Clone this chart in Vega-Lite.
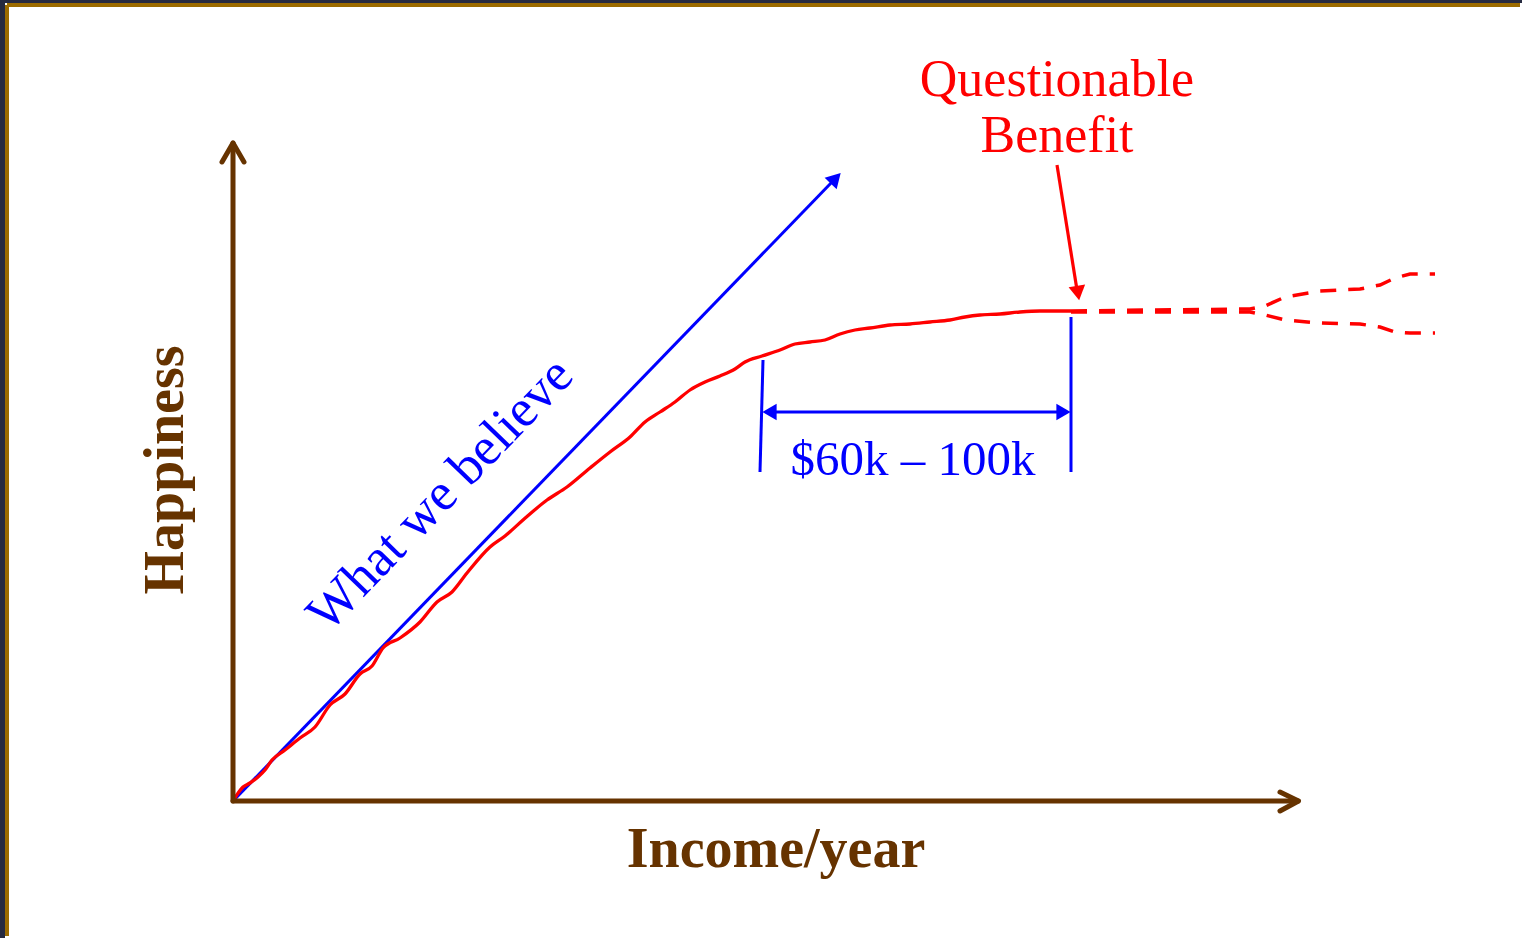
{
  "$schema": "https://vega.github.io/schema/vega-lite/v6.json",
  "width": 1522,
  "height": 938,
  "autosize": {"type": "fit", "contains": "padding"},
  "padding": {"left": 5, "top": 3, "right": 0, "bottom": 0},
  "background": "#262a40",
  "config": {"view": {"fill": "white", "stroke": null}},
  "datasets": {
    "frameLeft": [{"x": -22.6, "y": -13.5, "y2": 79.6}],
    "frameTop": [{"x": -22.6, "x2": 128.7, "y": 79.6}],
    "axes": [
      {"seg": "y", "ord": 1, "x": 0, "y": 0}, {"seg": "y", "ord": 2, "x": 0, "y": 65.8},
      {"seg": "yh", "ord": 1, "x": -1.1, "y": 63.9}, {"seg": "yh", "ord": 2, "x": 0, "y": 65.8}, {"seg": "yh", "ord": 3, "x": 1.1, "y": 63.9},
      {"seg": "x", "ord": 1, "x": 0, "y": 0}, {"seg": "x", "ord": 2, "x": 106.5, "y": 0},
      {"seg": "xh", "ord": 1, "x": 104.7, "y": 0.9}, {"seg": "xh", "ord": 2, "x": 106.55, "y": 0}, {"seg": "xh", "ord": 3, "x": 104.7, "y": -1.0}
    ],
    "believe": [
      {"ord": 1, "x": 0, "y": 0}, {"ord": 2, "x": 59.9, "y": 61.9}
    ],
    "believeHead": [{"x": 60.1, "y": 62.1}],
    "actual": [
      {"ord": 1, "x": 0, "y": 0}, {"ord": 2, "x": 1.0, "y": 1.4}, {"ord": 3, "x": 1.7, "y": 1.8},
      {"ord": 4, "x": 2.5, "y": 2.4}, {"ord": 5, "x": 3.2, "y": 3.1}, {"ord": 6, "x": 3.9, "y": 4.1},
      {"ord": 7, "x": 5.2, "y": 5.1}, {"ord": 8, "x": 6.7, "y": 6.3}, {"ord": 9, "x": 8.2, "y": 7.4},
      {"ord": 10, "x": 9.7, "y": 9.6}, {"ord": 11, "x": 11.2, "y": 10.7}, {"ord": 12, "x": 12.7, "y": 12.7},
      {"ord": 13, "x": 13.9, "y": 13.5}, {"ord": 14, "x": 15.0, "y": 15.3}, {"ord": 15, "x": 16.7, "y": 16.3},
      {"ord": 16, "x": 18.7, "y": 17.9}, {"ord": 17, "x": 20.4, "y": 19.9}, {"ord": 18, "x": 21.9, "y": 20.9},
      {"ord": 19, "x": 23.4, "y": 22.8}, {"ord": 20, "x": 25.7, "y": 25.4}, {"ord": 21, "x": 27.2, "y": 26.5},
      {"ord": 22, "x": 29.0, "y": 28.1}, {"ord": 23, "x": 31.4, "y": 30.1}, {"ord": 24, "x": 33.4, "y": 31.4},
      {"ord": 25, "x": 35.7, "y": 33.3}, {"ord": 26, "x": 37.7, "y": 34.9}, {"ord": 27, "x": 39.7, "y": 36.4},
      {"ord": 28, "x": 41.2, "y": 37.9}, {"ord": 29, "x": 42.7, "y": 38.9}, {"ord": 30, "x": 44.2, "y": 39.9},
      {"ord": 31, "x": 45.7, "y": 41.1}, {"ord": 32, "x": 47.2, "y": 41.9}, {"ord": 33, "x": 48.7, "y": 42.5},
      {"ord": 34, "x": 50.2, "y": 43.2}, {"ord": 35, "x": 51.2, "y": 43.9}, {"ord": 36, "x": 52.9, "y": 44.5},
      {"ord": 37, "x": 54.7, "y": 45.1}, {"ord": 38, "x": 56.2, "y": 45.7}, {"ord": 39, "x": 57.7, "y": 45.9},
      {"ord": 40, "x": 59.2, "y": 46.1}, {"ord": 41, "x": 60.7, "y": 46.7}, {"ord": 42, "x": 62.2, "y": 47.1},
      {"ord": 43, "x": 63.7, "y": 47.3}, {"ord": 44, "x": 65.7, "y": 47.6}, {"ord": 45, "x": 67.7, "y": 47.7},
      {"ord": 46, "x": 69.7, "y": 47.9}, {"ord": 47, "x": 71.7, "y": 48.1}, {"ord": 48, "x": 73.2, "y": 48.4},
      {"ord": 49, "x": 74.7, "y": 48.6}, {"ord": 50, "x": 76.7, "y": 48.7}, {"ord": 51, "x": 78.7, "y": 48.9},
      {"ord": 52, "x": 80.7, "y": 49.0}, {"ord": 53, "x": 83.8, "y": 49.0}
    ],
    "beyond": [
      {"seg": "up", "ord": 1, "x": 83.8, "y": 49.0}, {"seg": "up", "ord": 2, "x": 91.7, "y": 49.1},
      {"seg": "up", "ord": 3, "x": 101.7, "y": 49.2}, {"seg": "up", "ord": 4, "x": 103.2, "y": 49.5},
      {"seg": "up", "ord": 5, "x": 105.2, "y": 50.4}, {"seg": "up", "ord": 6, "x": 108.7, "y": 51.0},
      {"seg": "up", "ord": 7, "x": 112.7, "y": 51.2}, {"seg": "up", "ord": 8, "x": 114.7, "y": 51.6},
      {"seg": "up", "ord": 9, "x": 116.2, "y": 52.3}, {"seg": "up", "ord": 10, "x": 117.7, "y": 52.7},
      {"seg": "up", "ord": 11, "x": 120.2, "y": 52.7},
      {"seg": "down", "ord": 1, "x": 83.8, "y": 48.9}, {"seg": "down", "ord": 2, "x": 91.7, "y": 48.9},
      {"seg": "down", "ord": 3, "x": 101.7, "y": 48.9}, {"seg": "down", "ord": 4, "x": 103.2, "y": 48.6},
      {"seg": "down", "ord": 5, "x": 105.2, "y": 48.1}, {"seg": "down", "ord": 6, "x": 108.7, "y": 47.8},
      {"seg": "down", "ord": 7, "x": 112.7, "y": 47.7}, {"seg": "down", "ord": 8, "x": 114.7, "y": 47.4},
      {"seg": "down", "ord": 9, "x": 116.2, "y": 46.9}, {"seg": "down", "ord": 10, "x": 117.7, "y": 46.8},
      {"seg": "down", "ord": 11, "x": 120.2, "y": 46.8}
    ],
    "pointer": [
      {"ord": 1, "x": 82.4, "y": 63.6}, {"ord": 2, "x": 84.4, "y": 51.1}
    ],
    "pointerHead": [{"x": 84.5, "y": 50.8}],
    "bracket": [
      {"seg": "L", "ord": 1, "x": 53.0, "y": 44.1}, {"seg": "L", "ord": 2, "x": 52.7, "y": 32.9},
      {"seg": "R", "ord": 1, "x": 83.8, "y": 48.4}, {"seg": "R", "ord": 2, "x": 83.8, "y": 32.9},
      {"seg": "H", "ord": 1, "x": 53.6, "y": 38.9}, {"seg": "H", "ord": 2, "x": 83.2, "y": 38.9}
    ],
    "bracketLeft": [{"x": 53.65, "y": 38.9}],
    "bracketRight": [{"x": 83.05, "y": 38.9}],
    "redText": [
      {"text": "Questionable", "x": 82.4, "y": 70.5},
      {"text": "Benefit", "x": 82.4, "y": 64.9}
    ],
    "rangeText": [{"text": "$60k – 100k", "x": 68.0, "y": 32.6}],
    "believeText": [{"text": "What we believe", "x": 21.9, "y": 29.5}],
    "xTitle": [{"text": "Income/year", "x": 54.3, "y": -6.6}],
    "yTitle": [{"text": "Happiness", "x": -5.0, "y": 33.1}]
  },
  "encoding": {
    "x": {"field": "x", "type": "quantitative", "scale": {"domain": [-22.8, 128.9], "nice": false, "zero": false}, "axis": null},
    "y": {"field": "y", "type": "quantitative", "scale": {"domain": [-13.7, 79.8], "nice": false, "zero": false}, "axis": null}
  },
  "layer": [
    {
      "data": {"name": "frameLeft"},
      "mark": {"type": "rule", "color": "#9c6b00", "strokeWidth": 4},
      "encoding": {"y2": {"field": "y2"}}
    },
    {
      "data": {"name": "frameTop"},
      "mark": {"type": "rule", "color": "#9c6b00", "strokeWidth": 4},
      "encoding": {"x2": {"field": "x2"}}
    },
    {
      "data": {"name": "believe"},
      "mark": {"type": "line", "color": "#0000ff", "strokeWidth": 3},
      "encoding": {"order": {"field": "ord", "type": "quantitative"}}
    },
    {
      "data": {"name": "believeHead"},
      "mark": {"type": "point", "shape": "triangle", "size": 280, "angle": 44, "filled": true, "color": "#0000ff", "opacity": 1, "strokeWidth": 0}
    },
    {
      "data": {"name": "actual"},
      "mark": {"type": "line", "color": "#ff0000", "strokeWidth": 3.3, "strokeJoin": "round", "interpolate": "monotone"},
      "encoding": {"order": {"field": "ord", "type": "quantitative"}}
    },
    {
      "data": {"name": "beyond"},
      "mark": {"type": "line", "color": "#ff0000", "strokeWidth": 3.5, "strokeDash": [16, 12]},
      "encoding": {"detail": {"field": "seg"}, "order": {"field": "ord", "type": "quantitative"}}
    },
    {
      "data": {"name": "pointer"},
      "mark": {"type": "line", "color": "#ff0000", "strokeWidth": 3.2},
      "encoding": {"order": {"field": "ord", "type": "quantitative"}}
    },
    {
      "data": {"name": "pointerHead"},
      "mark": {"type": "point", "shape": "triangle-down", "size": 280, "angle": 351, "filled": true, "color": "#ff0000", "opacity": 1, "strokeWidth": 0}
    },
    {
      "data": {"name": "bracket"},
      "mark": {"type": "line", "color": "#0000ff", "strokeWidth": 3},
      "encoding": {"detail": {"field": "seg"}, "order": {"field": "ord", "type": "quantitative"}}
    },
    {
      "data": {"name": "bracketLeft"},
      "mark": {"type": "point", "shape": "triangle-left", "size": 270, "filled": true, "color": "#0000ff", "opacity": 1, "strokeWidth": 0}
    },
    {
      "data": {"name": "bracketRight"},
      "mark": {"type": "point", "shape": "triangle-right", "size": 270, "filled": true, "color": "#0000ff", "opacity": 1, "strokeWidth": 0}
    },
    {
      "data": {"name": "axes"},
      "mark": {"type": "line", "color": "#663300", "strokeWidth": 5, "strokeCap": "round", "strokeJoin": "round"},
      "encoding": {"detail": {"field": "seg"}, "order": {"field": "ord", "type": "quantitative"}}
    },
    {
      "data": {"name": "redText"},
      "mark": {"type": "text", "font": "Liberation Serif", "fontSize": 52, "color": "#ff0000", "align": "center", "baseline": "alphabetic"},
      "encoding": {"text": {"field": "text"}}
    },
    {
      "data": {"name": "rangeText"},
      "mark": {"type": "text", "font": "Liberation Serif", "fontSize": 49, "color": "#0000ff", "align": "center", "baseline": "alphabetic"},
      "encoding": {"text": {"field": "text"}}
    },
    {
      "data": {"name": "believeText"},
      "mark": {"type": "text", "font": "Liberation Serif", "fontSize": 53, "color": "#0000ff", "align": "center", "baseline": "alphabetic", "angle": 314},
      "encoding": {"text": {"field": "text"}}
    },
    {
      "data": {"name": "xTitle"},
      "mark": {"type": "text", "font": "Liberation Serif", "fontSize": 56, "fontWeight": "bold", "color": "#663300", "align": "center", "baseline": "alphabetic"},
      "encoding": {"text": {"field": "text"}}
    },
    {
      "data": {"name": "yTitle"},
      "mark": {"type": "text", "font": "Liberation Serif", "fontSize": 56, "fontWeight": "bold", "color": "#663300", "align": "center", "baseline": "alphabetic", "angle": 270},
      "encoding": {"text": {"field": "text"}}
    }
  ]
}
